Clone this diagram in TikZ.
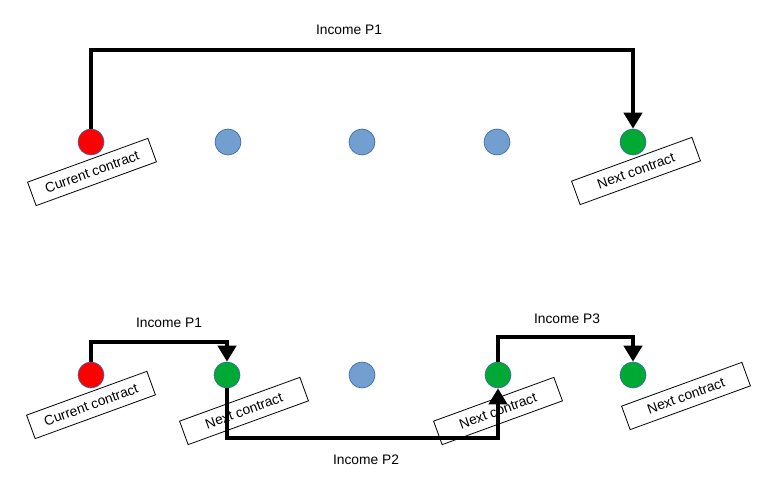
\documentclass[tikz,border=0pt]{standalone}
\usepackage{fontspec}
\setmainfont{Liberation Sans}
\definecolor{CRed}{RGB}{255, 0, 0}
\definecolor{CGreen}{RGB}{0, 169, 51}
\definecolor{CBlue}{RGB}{114, 159, 207}
\definecolor{CEdge}{RGB}{52, 101, 164}
\usetikzlibrary{arrows.meta, positioning}

\begin{document}
\begin{tikzpicture}[x=1pt, y=-1pt,
    dot/.style={circle, draw=CEdge, line width=0.6pt, minimum size=26pt, inner sep=0pt},
    tag/.style={draw, fill=white, line width=0.8pt, rotate=20, minimum width=128pt,
                minimum height=25pt, inner sep=0pt, font=\fontsize{13.8}{15}\selectfont},
    flow/.style={line width=4pt, -{Triangle[length=16pt, width=18pt]}},
    income/.style={font=\fontsize{13.8}{16}\selectfont}]
        \useasboundingbox (0,0) rectangle (761,497);
        % upper row
        \node[tag] (t1) at (92,172) {Current contract};
        \node[tag] (t5) at (636,171) {Next contract};
        \node[dot, fill=CRed] (a1) at (91,142) {};
        \foreach \i/\x in {2/228, 3/362, 4/497}
          \node[dot, fill=CBlue] (a\i) at (\x,142) {};
        \node[dot, fill=CGreen] (a5) at (633,142) {};
        \coordinate (topA) at (349,50);
        \draw[flow] (a1.north) |- (topA) -| (a5.north);
        \node[income] (inA) at (349,30) {Income P1};
        % lower row
        \node[tag] (u1) at (91,405) {Current contract};
        \node[tag] (u2) at (244,411) {Next contract};
        \node[tag] (u4) at (498,411) {Next contract};
        \node[tag] (u5) at (686,396) {Next contract};
        \node[dot, fill=CRed] (b1) at (91,375) {};
        \node[dot, fill=CGreen] (b2) at (227,375) {};
        \node[dot, fill=CBlue] (b3) at (362,375) {};
        \node[dot, fill=CGreen] (b4) at (498,375) {};
        \node[dot, fill=CGreen] (b5) at (633,375) {};
        \coordinate (topB) at (169,342);
        \coordinate (lowB) at (366,438);
        \coordinate (topC) at (567,337);
        \draw[flow] (b1.north) |- (topB) -| (b2.north);
        \draw[flow] (b2.south) |- (lowB) -| (b4.south);
        \draw[flow] (b4.north) |- (topC) -| (b5.north);
        \node[income] (inB) at (169,323) {Income P1};
        \node[income] (inC) at (366,460) {Income P2};
        \node[income] (inD) at (567,319) {Income P3};
\end{tikzpicture}
\end{document}
